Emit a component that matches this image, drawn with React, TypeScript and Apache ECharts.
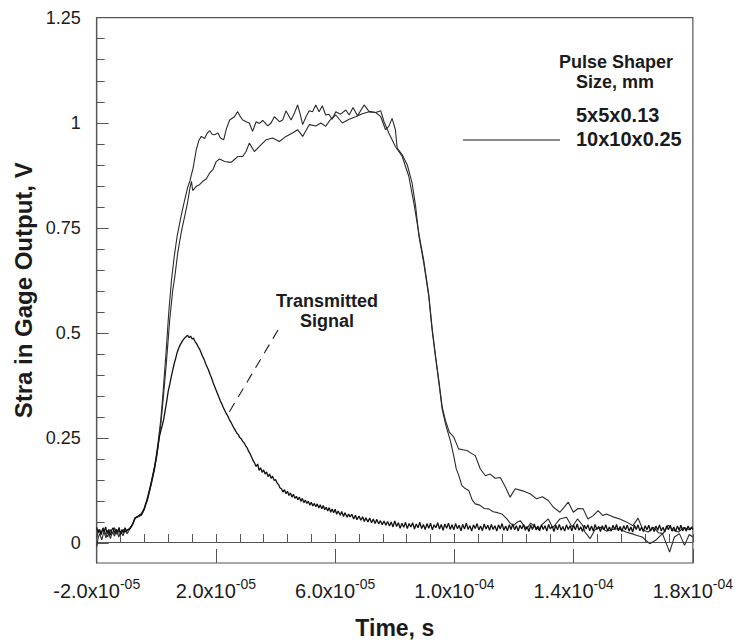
import React, { useEffect, useRef } from 'react';
import * as echarts from 'echarts';

const FONT = '"Liberation Sans", Arial, Helvetica, sans-serif';
const INK = '#1b1b1b';
const AXIS = '#555555';

// Time axis: data are in microseconds; axis value = time + 20 µs so the ticks count from 0.
const X_OFFSET_US = 20;
const X_MIN_US = -20;
const X_MAX_US = 180;
const xTickMantissas = ['-2.0x10', '2.0x10', '6.0x10', '1.0x10', '1.4x10', '1.8x10'];
const xTickExponents = ['-05', '-05', '-05', '-04', '-04', '-04'];
const Y_MIN = -0.05;
const Y_MAX = 1.25;
const yTickLabels = ['0', '0.25', '0.5', '0.75', '1', '1.25'];

const legendTitle = ['Pulse Shaper', 'Size, mm'];
const legendEntries = ['5x5x0.13', '10x10x0.25'];
const annotation = ['Transmitted', 'Signal'];

// [time (µs), strain gage output (V)]
const pulse5x5: [number, number][] = [
  [-20, 0.01], [-19.3, 0.03], [-18.6, 0.018], [-17.8, 0.034], [-17, 0.02], [-16.3, 0.012], [-15.5, 0.03],
  [-14.8, 0.02], [-14, 0.034], [-13.2, 0.018], [-12.5, 0.028], [-11.8, 0.02], [-11, 0.03], [-10.2, 0.024],
  [-9.5, 0.03], [-9, 0.032], [-8, 0.042], [-7.2, 0.058], [-6, 0.062], [-5, 0.068], [-4, 0.082], [-3.3, 0.098],
  [-2.5, 0.12], [-1.6, 0.146], [-0.6, 0.18], [0.5, 0.232], [1.5, 0.292], [2.3, 0.36], [3.2, 0.445], [4.2, 0.55],
  [5.1, 0.625], [6, 0.68], [7, 0.73], [8.4, 0.78], [9.5, 0.815], [10.5, 0.845], [11.3, 0.862], [12.3, 0.89],
  [13.4, 0.935], [14.3, 0.958], [15.1, 0.967], [16.2, 0.962], [17.1, 0.975], [17.9, 0.981], [18.7, 0.972],
  [19.5, 0.971], [20.7, 0.975], [21.5, 0.963], [22.6, 0.959], [23.5, 0.985], [24.6, 1.006], [26.2, 1.014],
  [27.3, 1.026], [28.2, 1.014], [29, 1.006], [30.1, 1.002], [31.2, 0.999], [32.3, 0.979], [33.5, 1.002],
  [34.6, 0.998], [35.7, 1.005], [37.4, 0.992], [38.5, 0.999], [39.6, 1.014], [41.3, 1.002], [42.4, 1.006],
  [43.5, 1.028], [45.2, 1.006], [46.3, 1.022], [47.4, 1.042], [48.2, 1.022], [49.1, 0.995], [50.2, 1.014],
  [51.3, 1.028], [52.4, 1.026], [53.5, 1.042], [54.6, 1.026], [55.7, 1.04], [56.8, 1.018], [57.9, 1.02],
  [59, 1.008], [60.2, 1.026], [61.8, 1.02], [63.6, 1.03], [64.7, 1.018], [66, 1.036], [67.5, 1.016],
  [69.7, 1.042], [71.4, 1.026], [73.6, 1.024], [75.3, 1.014], [76.9, 0.983], [78, 0.991], [79.1, 1.01],
  [80.2, 0.983], [80.8, 0.939], [82.5, 0.923], [84.2, 0.899], [85.8, 0.856], [87, 0.8], [88.1, 0.729],
  [89.7, 0.666], [91.4, 0.586], [92.5, 0.507], [93.6, 0.444], [94.8, 0.38], [95.9, 0.317], [97, 0.282],
  [98.7, 0.24], [99.8, 0.205], [100.6, 0.175], [101.4, 0.16], [102.5, 0.135], [103.5, 0.128], [104.8, 0.123],
  [106, 0.1], [107, 0.091], [108.5, 0.088], [110, 0.08], [111.5, 0.079], [113, 0.072], [114.5, 0.07],
  [115.9, 0.067], [117.6, 0.055], [118.7, 0.045], [119.8, 0.039], [121, 0.047], [122.1, 0.051], [123.2, 0.04],
  [124.3, 0.032], [125.6, 0.045], [127, 0.036], [128.3, 0.03], [129.5, 0.042], [131.5, 0.055], [133, 0.034],
  [135.4, 0.055], [137.6, 0.059], [139.5, 0.036], [141.3, 0.055], [143, 0.04], [143.8, 0.024], [145.5, 0.008],
  [147.2, 0.03], [149, 0.035], [151, 0.026], [153, 0.03], [155, 0.032], [157.5, 0.024], [159.5, 0.02],
  [161, 0.016], [163, 0.012], [165.5, -0.004], [167.5, 0.004], [169.8, 0.02], [172.2, -0.024], [173.8, 0.012],
  [175.5, 0.02], [177.2, -0.008], [178.8, 0.018], [180, 0.012],
];

const pulse10x10: [number, number][] = [
  [-20, -0.011], [-19.5, 0.01], [-19, 0.02], [-18.3, 0.005], [-17.6, 0.025], [-16.9, 0.01], [-16.2, 0.028],
  [-15.4, 0.008], [-14.7, 0.024], [-14, 0.014], [-13.3, 0.03], [-12.6, 0.012], [-11.9, 0.026], [-11.2, 0.015],
  [-10.5, 0.028], [-9.8, 0.02], [-9, 0.03], [-8, 0.04], [-7.2, 0.056], [-6, 0.06], [-5, 0.064], [-4, 0.078],
  [-3.3, 0.094], [-2.5, 0.116], [-1.6, 0.14], [-0.6, 0.172], [0.5, 0.222], [1.5, 0.28], [2.3, 0.34], [3.4, 0.43],
  [4.5, 0.53], [5.5, 0.6], [6.2, 0.632], [7.2, 0.69], [8.4, 0.74], [9.5, 0.776], [10.5, 0.81], [11.3, 0.845],
  [11.8, 0.86], [12.2, 0.838], [13.4, 0.848], [14.5, 0.852], [15.6, 0.86], [16.8, 0.866], [17.9, 0.88],
  [19, 0.888], [20.1, 0.907], [21.2, 0.913], [22.9, 0.907], [25.1, 0.905], [26.2, 0.912], [27.3, 0.919],
  [29, 0.919], [30.1, 0.931], [31.2, 0.951], [32.9, 0.931], [34.6, 0.943], [36.8, 0.959], [39, 0.963],
  [41.3, 0.955], [43.5, 0.967], [45.7, 0.975], [47.4, 0.983], [49.1, 0.967], [51.3, 0.995], [53.5, 0.992],
  [55.2, 0.999], [56.8, 0.991], [58.5, 1.008], [60.2, 1.018], [62.4, 0.999], [64.7, 1.008], [66.9, 1.014],
  [69.1, 1.021], [71.4, 1.026], [73.6, 1.024], [75.3, 1.028], [76.4, 1.002], [78, 0.975], [80.2, 0.943],
  [82.5, 0.919], [84.7, 0.872], [86.4, 0.808], [88.1, 0.735], [89.7, 0.672], [91.4, 0.59], [92.5, 0.512],
  [93.6, 0.448], [94.8, 0.384], [95.9, 0.322], [97, 0.29], [98.3, 0.262], [99.8, 0.25], [101.4, 0.222],
  [102.8, 0.22], [104.2, 0.218], [105.6, 0.212], [107, 0.206], [108.7, 0.174], [110.4, 0.158], [112, 0.162],
  [113.7, 0.152], [115.4, 0.154], [117.1, 0.131], [118.7, 0.107], [120.4, 0.127], [122.9, 0.122],
  [125.4, 0.115], [127.6, 0.103], [129.5, 0.108], [131.5, 0.099], [133.2, 0.083], [135.4, 0.071],
  [138.2, 0.095], [139.9, 0.071], [141.5, 0.08], [143.2, 0.079], [144.8, 0.055], [146.6, 0.063],
  [148.2, 0.075], [149.8, 0.063], [151, 0.067], [153.2, 0.06], [155.5, 0.055], [157.7, 0.048], [159.9, 0.039],
  [161.6, 0.057], [163.3, 0.028], [165, 0.024], [166.8, 0.035], [168.5, 0.022], [170, 0.02], [171.7, 0.04],
  [173.5, 0.028], [175.2, 0.024], [177, 0.035], [178.5, 0.03], [180, 0.034],
];

const transmitted: [number, number][] = [
  [-20, 0.035], [-19.5, 0.022], [-19, 0.03], [-18.5, 0.018], [-18, 0.032], [-17.5, 0.024], [-17, 0.036],
  [-16.5, 0.02], [-16, 0.03], [-15.5, 0.016], [-15, 0.028], [-14.5, 0.034], [-14, 0.02], [-13.5, 0.03],
  [-13, 0.024], [-12.5, 0.035], [-12, 0.018], [-11.5, 0.03], [-11, 0.022], [-10.5, 0.034], [-10, 0.026],
  [-9.5, 0.03], [-9, 0.03], [-8.5, 0.036], [-8, 0.042], [-7.5, 0.05], [-7, 0.058], [-6.5, 0.06], [-6, 0.062],
  [-5.5, 0.064], [-5, 0.066], [-4.5, 0.072], [-4, 0.08], [-3.5, 0.092], [-3, 0.1], [-2.5, 0.115], [-2, 0.13],
  [-1.5, 0.148], [-1, 0.165], [-0.5, 0.182], [0, 0.2], [0.5, 0.225], [1, 0.25], [1.5, 0.265], [2, 0.278],
  [2.5, 0.293], [3, 0.315], [3.5, 0.336], [4, 0.36], [4.5, 0.376], [5, 0.393], [5.5, 0.41], [6, 0.425],
  [6.5, 0.438], [7, 0.452], [7.5, 0.462], [8, 0.47], [8.5, 0.476], [9, 0.482], [9.5, 0.486], [10, 0.49],
  [10.5, 0.493], [11, 0.487], [11.5, 0.491], [12, 0.484], [12.5, 0.486], [13, 0.478], [13.5, 0.473],
  [14, 0.466], [14.5, 0.46], [15, 0.452], [15.5, 0.443], [16, 0.436], [16.5, 0.426], [17, 0.418], [17.5, 0.41],
  [18, 0.4], [18.5, 0.392], [19, 0.381], [19.5, 0.372], [20, 0.363], [20.5, 0.354], [21, 0.345], [21.5, 0.336],
  [22, 0.329], [22.5, 0.32], [23, 0.313], [23.5, 0.306], [24, 0.3], [24.5, 0.292], [25, 0.286], [25.5, 0.279],
  [26, 0.272], [26.5, 0.266], [27, 0.26], [27.5, 0.256], [28, 0.249], [28.5, 0.246], [29, 0.24], [29.5, 0.236],
  [30, 0.229], [30.5, 0.224], [31, 0.216], [31.5, 0.21], [32, 0.202], [32.5, 0.194], [33, 0.188], [33.5, 0.18],
  [34, 0.186], [34.5, 0.171], [35, 0.177], [35.5, 0.166], [36, 0.172], [36.5, 0.162], [37, 0.167],
  [37.5, 0.156], [38, 0.162], [38.5, 0.152], [39, 0.157], [39.5, 0.147], [40, 0.149], [40.5, 0.141],
  [41, 0.137], [41.5, 0.129], [42, 0.127], [42.5, 0.119], [43, 0.125], [43.5, 0.115], [44, 0.121],
  [44.5, 0.111], [45, 0.117], [45.5, 0.107], [46, 0.114], [46.5, 0.104], [47, 0.109], [47.5, 0.101],
  [48, 0.107], [48.5, 0.097], [49, 0.104], [49.5, 0.094], [50, 0.1], [50.5, 0.092], [51, 0.097],
  [51.5, 0.088], [52, 0.095], [52.5, 0.086], [53, 0.092], [53.5, 0.084], [54, 0.091], [54.5, 0.081],
  [55, 0.089], [55.5, 0.079], [56, 0.087], [56.5, 0.077], [57, 0.083], [57.5, 0.074], [58, 0.082],
  [58.5, 0.071], [59, 0.079], [59.5, 0.07],
  [60, 0.078], [60.5, 0.066], [61, 0.074], [61.7, 0.064], [62.2, 0.073], [62.8, 0.061], [63.3, 0.07],
  [64, 0.059], [64.5, 0.067], [65, 0.06], [65.6, 0.066], [66.2, 0.055], [66.8, 0.064], [67.3, 0.053],
  [68, 0.062], [68.6, 0.052], [69.2, 0.06], [69.8, 0.049], [70.3, 0.058], [71, 0.048], [71.6, 0.057],
  [72.2, 0.046], [72.8, 0.055], [73.4, 0.044], [74, 0.054], [74.6, 0.043], [75.2, 0.051], [75.8, 0.041],
  [76.4, 0.05], [77, 0.04], [77.6, 0.049], [78.2, 0.038], [78.8, 0.048], [79.4, 0.036], [80, 0.05],
  [80.6, 0.037], [81.2, 0.046], [81.8, 0.033], [82.4, 0.045], [83, 0.035], [83.6, 0.047], [84.2, 0.032],
  [84.8, 0.044], [85.4, 0.036], [86, 0.046], [86.6, 0.031], [87.2, 0.043], [87.8, 0.034], [88.4, 0.047],
  [89, 0.032], [89.6, 0.042], [90.2, 0.03], [90.8, 0.044], [91.4, 0.033], [92, 0.045], [92.6, 0.029],
  [93.2, 0.041], [93.8, 0.034], [94.4, 0.046], [95, 0.031], [95.6, 0.042], [96.2, 0.028], [96.8, 0.043],
  [97.4, 0.033], [98, 0.045], [98.6, 0.03], [99.2, 0.041], [99.8, 0.029], [100.4, 0.044], [101, 0.032],
  [101.6, 0.04], [102.2, 0.027], [102.8, 0.042], [103.4, 0.031], [104, 0.045], [104.6, 0.03], [105.2, 0.039],
  [105.8, 0.026], [106.4, 0.041], [107, 0.032], [107.6, 0.044], [108.2, 0.029], [108.8, 0.038],
  [109.4, 0.027], [110, 0.043], [110.6, 0.031], [111.2, 0.04], [111.8, 0.028], [112.4, 0.042], [113, 0.03],
  [113.6, 0.039], [114.2, 0.026], [114.8, 0.041], [115.4, 0.031], [116, 0.044], [116.6, 0.028],
  [117.2, 0.038], [117.8, 0.027], [118.4, 0.041], [119, 0.03], [119.6, 0.043], [120.2, 0.029],
  [120.8, 0.039], [121.4, 0.026], [122, 0.04], [122.6, 0.031], [123.2, 0.042], [123.8, 0.028],
  [124.4, 0.037], [125, 0.025], [125.6, 0.04], [126.2, 0.03], [126.8, 0.043], [127.4, 0.029], [128, 0.038],
  [128.6, 0.027], [129.2, 0.041], [129.8, 0.03], [130.4, 0.039], [131, 0.026], [131.6, 0.042],
  [132.2, 0.031], [132.8, 0.038], [133.4, 0.025], [134, 0.04], [134.6, 0.029], [135.2, 0.042],
  [135.8, 0.028], [136.4, 0.037], [137, 0.026], [137.6, 0.041], [138.2, 0.03], [138.8, 0.039],
  [139.4, 0.027], [140, 0.04], [140.6, 0.029], [141.2, 0.043], [141.8, 0.028], [142.4, 0.036], [143, 0.025],
  [143.6, 0.04], [144.2, 0.031], [144.8, 0.041], [145.4, 0.027], [146, 0.038], [146.6, 0.026],
  [147.2, 0.042], [147.8, 0.03], [148.4, 0.037], [149, 0.025], [149.6, 0.039], [150.2, 0.029],
  [150.8, 0.041], [151.4, 0.027], [152, 0.036], [152.6, 0.026], [153.2, 0.04], [153.8, 0.03],
  [154.4, 0.042], [155, 0.027], [155.6, 0.037], [156.2, 0.025], [156.8, 0.039], [157.4, 0.029], [158, 0.04],
  [158.6, 0.026], [159.2, 0.036], [159.8, 0.024], [160.4, 0.04], [161, 0.03], [161.6, 0.041],
  [162.2, 0.027], [162.8, 0.035], [163.4, 0.025], [164, 0.039], [164.6, 0.029], [165.2, 0.04],
  [165.8, 0.026], [166.4, 0.036], [167, 0.025], [167.6, 0.038], [168.2, 0.028], [168.8, 0.041],
  [169.4, 0.027], [170, 0.035], [170.6, 0.024], [171.2, 0.039], [171.8, 0.029], [172.4, 0.04], [173, 0.026],
  [173.6, 0.036], [174.2, 0.025], [174.8, 0.038], [175.4, 0.028], [176, 0.04], [176.6, 0.027],
  [177.2, 0.035], [177.8, 0.026], [178.4, 0.038], [179, 0.029], [179.6, 0.036], [180, 0.03],
];

const toAxis = (pts: [number, number][]) => pts.map(([t, v]) => [t + X_OFFSET_US, v]);

const xMajorFormatter = (u: number): string => {
  const i = Math.round(u / 40);
  if (Math.abs(u - i * 40) > 1e-6 || i < 0 || i >= xTickMantissas.length) return '';
  return `{m|${xTickMantissas[i]}}{e|${xTickExponents[i]}}`;
};

const yMajorFormatter = (v: number): string => {
  const k = Math.round(v / 0.25);
  if (Math.abs(v - k * 0.25) > 1e-6 || k < 0) return '';
  return yTickLabels[k] ?? '';
};

const boldText = (text: string, x: number, y: number, size: number, align: string) => ({
  type: 'text',
  x,
  y,
  silent: true,
  style: {
    text,
    fill: INK,
    font: `bold ${size}px ${FONT}`,
    textAlign: align,
    textVerticalAlign: 'middle',
  },
});

// plot box in page pixels
const PLOT_LEFT = 96.7;
const PLOT_RIGHT = 41;
const PLOT_TOP = 17.7;
const PLOT_BOTTOM = 79.7;

export default function App() {
  const ref = useRef<HTMLDivElement>(null);

  useEffect(() => {
    if (!ref.current) return;
    const chart = echarts.init(ref.current, undefined, { renderer: 'svg' });
    const xSpan = X_MAX_US - X_MIN_US;
    const plotHeight = 644 - PLOT_TOP - PLOT_BOTTOM;
    // second grid covers only the 0 .. 1.25 part, so its ticks start at 0
    const zeroBottom = PLOT_BOTTOM + (plotHeight * (0 - Y_MIN)) / (Y_MAX - Y_MIN);
    const option: any = {
      animation: false,
      backgroundColor: '#ffffff',
      textStyle: { fontFamily: FONT },
      grid: [
        {
          left: PLOT_LEFT,
          right: PLOT_RIGHT,
          top: PLOT_TOP,
          bottom: PLOT_BOTTOM,
          show: true,
          borderColor: AXIS,
          borderWidth: 1.2,
          backgroundColor: 'transparent',
        },
        {
          left: PLOT_LEFT,
          right: PLOT_RIGHT,
          top: PLOT_TOP,
          bottom: zeroBottom,
          show: false,
        },
      ],
      xAxis: [
        {
          type: 'value',
          gridIndex: 0,
          min: 0,
          max: xSpan,
          interval: 8,
          position: 'bottom',
          axisLine: { show: true, lineStyle: { color: AXIS, width: 1.2 } },
          axisTick: { show: true, inside: true, length: 8, lineStyle: { color: AXIS, width: 1 } },
          axisLabel: { show: false },
          splitLine: { show: false },
          name: 'Time, s',
          nameLocation: 'middle',
          nameGap: 53,
          nameTextStyle: { fontFamily: FONT, fontWeight: 'bold', fontSize: 23, color: INK },
        },
        {
          type: 'value',
          gridIndex: 0,
          min: 0,
          max: xSpan,
          interval: 40,
          position: 'bottom',
          axisLine: { show: false },
          axisTick: { show: true, inside: true, length: 14, lineStyle: { color: AXIS, width: 1 } },
          splitLine: { show: false },
          axisLabel: {
            show: true,
            margin: 14,
            formatter: xMajorFormatter,
            rich: {
              m: { fontFamily: FONT, fontSize: 20, color: INK, lineHeight: 28 },
              e: { fontFamily: FONT, fontSize: 14, color: INK, lineHeight: 14, verticalAlign: 'top' },
            },
          },
        },
        {
          type: 'value',
          gridIndex: 1,
          min: 0,
          max: xSpan,
          show: false,
        },
      ],
      yAxis: [
        {
          type: 'value',
          gridIndex: 0,
          min: Y_MIN,
          max: Y_MAX,
          position: 'left',
          axisLine: { show: true, lineStyle: { color: AXIS, width: 1.2 } },
          axisTick: { show: false },
          axisLabel: { show: false },
          splitLine: { show: false },
          name: 'Stra in Gage Output, V',
          nameLocation: 'middle',
          nameGap: 61,
          nameTextStyle: { fontFamily: FONT, fontWeight: 'bold', fontSize: 24, color: INK },
        },
        {
          type: 'value',
          gridIndex: 1,
          min: 0,
          max: Y_MAX,
          interval: 0.05,
          position: 'left',
          axisLine: { show: false },
          axisTick: { show: true, inside: true, length: 8, lineStyle: { color: AXIS, width: 1 } },
          axisLabel: { show: false },
          splitLine: { show: false },
        },
        {
          type: 'value',
          gridIndex: 1,
          min: 0,
          max: Y_MAX,
          interval: 0.25,
          position: 'left',
          axisLine: { show: false },
          axisTick: { show: true, inside: true, length: 12, lineStyle: { color: AXIS, width: 1 } },
          splitLine: { show: false },
          axisLabel: {
            show: true,
            margin: 16,
            formatter: yMajorFormatter,
            fontFamily: FONT,
            fontSize: 18,
            color: INK,
          },
        },
      ],
      series: [
        {
          name: legendEntries[0],
          type: 'line',
          xAxisIndex: 0,
          yAxisIndex: 0,
          showSymbol: false,
          symbol: 'none',
          data: toAxis(pulse5x5),
          lineStyle: { color: '#2a2a2a', width: 1.1 },
        },
        {
          name: legendEntries[1],
          type: 'line',
          xAxisIndex: 0,
          yAxisIndex: 0,
          showSymbol: false,
          symbol: 'none',
          data: toAxis(pulse10x10),
          lineStyle: { color: '#2a2a2a', width: 1.1 },
        },
        {
          name: annotation.join(' '),
          type: 'line',
          xAxisIndex: 0,
          yAxisIndex: 0,
          showSymbol: false,
          symbol: 'none',
          data: toAxis(transmitted),
          lineStyle: { color: '#111111', width: 1.3 },
        },
      ],
      graphic: [
        boldText(legendTitle[0], 616, 62, 18, 'center'),
        boldText(legendTitle[1], 615, 82, 18, 'center'),
        boldText(legendEntries[0], 576, 115, 20, 'left'),
        boldText(legendEntries[1], 576, 139, 20, 'left'),
        {
          type: 'line',
          silent: true,
          shape: { x1: 463, y1: 140, x2: 560, y2: 140 },
          style: { stroke: INK, lineWidth: 1 },
        },
        boldText(annotation[0], 327, 301, 18, 'center'),
        boldText(annotation[1], 327, 321, 18, 'center'),
        {
          type: 'line',
          silent: true,
          shape: { x1: 278, y1: 330, x2: 227.5, y2: 415 },
          style: { stroke: INK, lineWidth: 1.1, lineDash: [10, 7] },
        },
      ],
    };
    chart.setOption(option);
    return () => chart.dispose();
  }, []);

  return (
    <div
      ref={ref}
      style={{ position: 'absolute', left: 0, top: 0, width: 736, height: 644 }}
    />
  );
}
